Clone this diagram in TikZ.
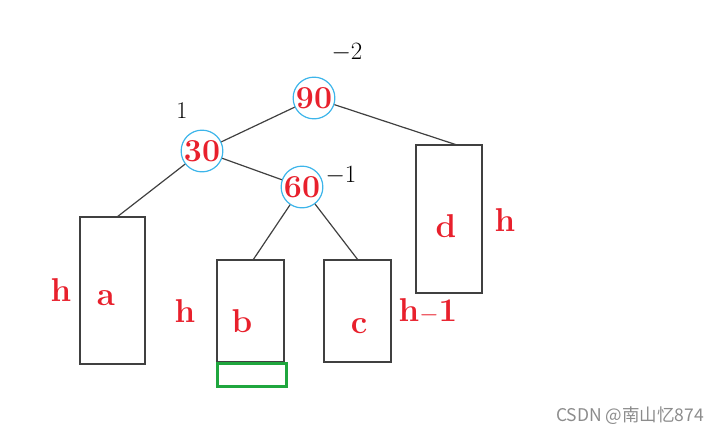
\documentclass[tikz,border=0pt]{standalone}
\usepackage{fontspec}
\newfontfamily\cjk{Noto Sans CJK SC}
\definecolor{lblred}{HTML}{E8202C}
\definecolor{cblue}{HTML}{3DB5EA}
\definecolor{bgreen}{HTML}{1FA63E}
\tikzset{
  keynode/.style={circle,draw=cblue,line width=1.2pt,minimum size=40pt,inner sep=0pt,text=lblred,font=\bfseries\fontsize{32}{32}\selectfont},
  lbl/.style={text=lblred,font=\bfseries\fontsize{33}{33}\selectfont,inner sep=0pt},
  bal/.style={text=black,font=\fontsize{24}{24}\selectfont,inner sep=0pt},
  edge/.style={draw=black!75,line width=1.2pt}
}
\begin{document}
\begin{tikzpicture}[x=1pt,y=-1pt]
\useasboundingbox (0,0) rectangle (720,437);
% circles
\node[keynode] (n90) at (314,98) {90};
\node[keynode] (n30) at (202,151) {30};
\node[keynode] (n60) at (302,187) {60};
% subtree boxes
\node[draw=black!75,line width=1.4pt,inner sep=0pt,minimum width=65pt,minimum height=147pt] (ba) at (112.5,290.5) {};
\node[draw=black!75,line width=1.4pt,inner sep=0pt,minimum width=67pt,minimum height=102pt] (bb) at (250.5,311) {};
\node[draw=black!75,line width=1.4pt,inner sep=0pt,minimum width=67pt,minimum height=102pt] (bc) at (357.5,311) {};
\node[draw=black!75,line width=1.8pt,inner sep=0pt,minimum width=66pt,minimum height=148pt] (bd) at (449,219) {};
\node[draw=bgreen,line width=2.4pt,inner sep=0pt,minimum width=69pt,minimum height=23pt] (bg) at (252,375) {};
% edges
\coordinate (ta) at (117,217);
\coordinate (tb) at (253,260);
\coordinate (tc) at (358,260);
\coordinate (td) at (457,145);
\draw[edge] (n90) -- (n30);
\draw[edge] (n90.-18) -- (td);
\draw[edge] (n30) -- (ta);
\draw[edge] (n30) -- (n60);
\draw[edge] (n60) -- (tb);
\draw[edge] (n60) -- (tc);
% balance factors
\node[bal] (f90) at (347,53) {$-2$};
\node[bal] (f30) at (182,111) {1};
\node[bal] (f60) at (341,176) {$-1$};
% letters
\node[lbl] (la) at (106,298) {a};
\node[lbl] (lb) at (242,321) {b};
\node[lbl] (lc) at (359,326) {c};
\node[lbl] (ld) at (446,226) {d};
\node[lbl] (ha) at (61,290) {h};
\node[lbl] (hb) at (185,311) {h};
\node[lbl] (hc) at (428,311) {h$-$1};
\node[lbl] (hd) at (505,220) {h};
% watermark
\node[text=black!45,font=\cjk\fontsize{17.5}{17.5}\selectfont,inner sep=0pt] (wm) at (630,416) {CSDN @南山忆874};
\end{tikzpicture}
\end{document}
